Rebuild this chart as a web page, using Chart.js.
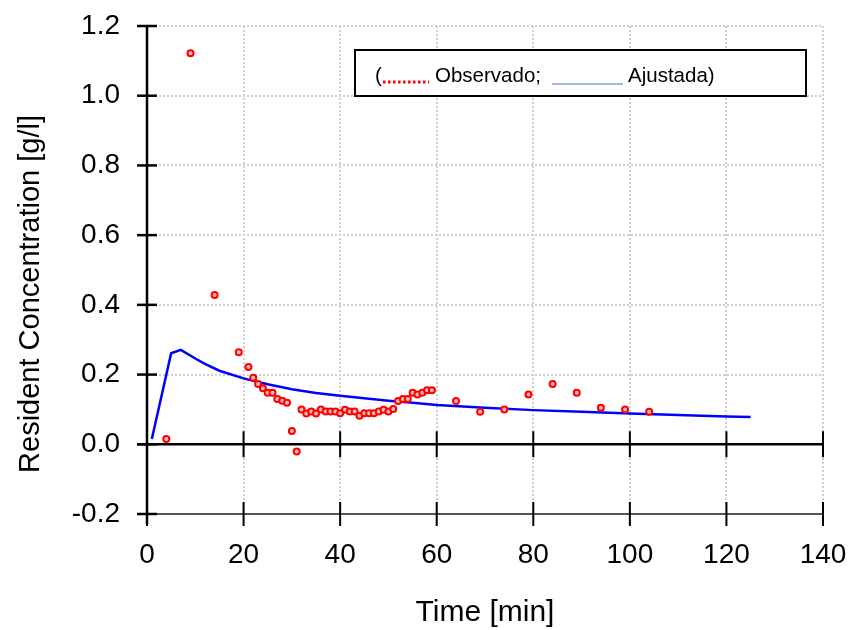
<!DOCTYPE html>
<html>
<head>
<meta charset="utf-8">
<script src="https://cdn.jsdelivr.net/npm/chart.js@4.4.1/dist/chart.umd.min.js"></script>
<style>
  html, body { margin: 0; padding: 0; background: #fff; }
  #wrap { width: 853px; height: 630px; }
</style>
</head>
<body>
<div id="wrap"><canvas id="chart" width="853" height="630"></canvas></div>
<script>
// observed concentration (red dots)
var obsTime = [4, 9, 14, 19, 21, 22, 23, 24, 25, 26, 27, 28, 29, 30, 31, 32, 33, 34, 35, 36,
               37, 38, 39, 40, 41, 42, 43, 44, 45, 46, 47, 48, 49, 50, 51, 52, 53, 54, 55, 56,
               57, 58, 59, 64, 69, 74, 79, 84, 89, 94, 99, 104];
var obsConc = [0.015, 1.122, 0.428, 0.264, 0.222, 0.191, 0.173, 0.161, 0.148, 0.148, 0.130, 0.125, 0.119, 0.038, -0.021, 0.100, 0.088, 0.094, 0.088, 0.100,
               0.094, 0.094, 0.094, 0.089, 0.099, 0.094, 0.094, 0.082, 0.089, 0.089, 0.089, 0.094, 0.099, 0.094, 0.101, 0.124, 0.130, 0.130, 0.148, 0.143,
               0.148, 0.155, 0.155, 0.124, 0.093, 0.100, 0.143, 0.173, 0.148, 0.105, 0.100, 0.093];

// fitted curve (blue line)
var fitTime = [1, 5, 7, 10, 12, 15, 20, 25, 30, 35, 40, 45, 50, 55, 60, 70, 80, 90, 100, 110, 120, 125];
var fitConc = [0.015, 0.261, 0.271, 0.246, 0.231, 0.211, 0.189, 0.172, 0.158, 0.147, 0.139, 0.132, 0.125, 0.119, 0.113, 0.105, 0.098, 0.093, 0.088, 0.084, 0.080, 0.078];

var xTicks = [0, 20, 40, 60, 80, 100, 120, 140];
var yTicks = [-0.2, 0.0, 0.2, 0.4, 0.6, 0.8, 1.0, 1.2];

var FONT = "'Liberation Sans', Arial, sans-serif";

function toPoints(xs, ys) {
    return xs.map(function(x, i) { return { x: x, y: ys[i] }; });
}

// axis lines with crossing tick marks, axis titles and the boxed legend
var decorPlugin = {
    id: 'decor',
    beforeDatasetsDraw: function(chart) {
        var ctx = chart.ctx;
        var xs = chart.scales.x, ys = chart.scales.y;
        var x0 = xs.getPixelForValue(0), x1 = xs.getPixelForValue(140);
        var yTop = ys.getPixelForValue(1.2), yZero = ys.getPixelForValue(0), yBot = ys.getPixelForValue(-0.2);
        ctx.save();
        ctx.lineCap = 'butt';

        // bottom axis at -0.2
        ctx.strokeStyle = '#555';
        ctx.lineWidth = 2;
        ctx.beginPath(); ctx.moveTo(x0 - 10, yBot); ctx.lineTo(x1, yBot); ctx.stroke();
        // zero line
        ctx.strokeStyle = '#000';
        ctx.lineWidth = 2.5;
        ctx.beginPath(); ctx.moveTo(x0 - 10, yZero); ctx.lineTo(x1, yZero); ctx.stroke();
        // left axis
        ctx.beginPath(); ctx.moveTo(x0, yTop); ctx.lineTo(x0, yBot + 10); ctx.stroke();

        // x ticks crossing both horizontal lines
        ctx.lineWidth = 2;
        xTicks.forEach(function(v) {
            var px = xs.getPixelForValue(v);
            ctx.beginPath(); ctx.moveTo(px, yZero - 13); ctx.lineTo(px, yZero + 13); ctx.stroke();
            ctx.beginPath(); ctx.moveTo(px, yBot - 12); ctx.lineTo(px, yBot + 12); ctx.stroke();
        });
        // y ticks crossing the left axis
        ctx.lineWidth = 2.5;
        yTicks.forEach(function(v) {
            var py = ys.getPixelForValue(v);
            ctx.beginPath(); ctx.moveTo(x0 - 10, py); ctx.lineTo(x0 + 10, py); ctx.stroke();
        });

        // axis titles
        ctx.fillStyle = '#000';
        ctx.textAlign = 'center';
        ctx.textBaseline = 'middle';
        ctx.font = '30px ' + FONT;
        ctx.fillText('Time [min]', (x0 + x1) / 2, 613);
        ctx.font = '29px ' + FONT;
        ctx.save();
        ctx.translate(31, 294);
        ctx.rotate(-Math.PI / 2);
        ctx.fillText('Resident Concentration [g/l]', 0, 0);
        ctx.restore();

        // legend box
        ctx.fillStyle = '#fff';
        ctx.fillRect(355, 50, 451, 46);
        ctx.strokeStyle = '#000';
        ctx.lineWidth = 2;
        ctx.strokeRect(355, 50, 451, 46);

        ctx.fillStyle = '#000';
        ctx.font = '20.5px ' + FONT;
        ctx.textAlign = 'left';
        ctx.textBaseline = 'middle';
        ctx.fillText('(', 375, 76);
        ctx.strokeStyle = '#ff0000';
        ctx.lineWidth = 3;
        ctx.setLineDash([2.5, 2.5]);
        ctx.beginPath(); ctx.moveTo(383, 82); ctx.lineTo(429, 82); ctx.stroke();
        ctx.setLineDash([]);
        ctx.fillText('Observado;', 435, 76);
        ctx.strokeStyle = '#7ea0d8';
        ctx.lineWidth = 1.5;
        ctx.beginPath(); ctx.moveTo(552, 84); ctx.lineTo(623, 84); ctx.stroke();
        ctx.fillText('Ajustada)', 628, 76);
        ctx.restore();
    }
};

new Chart(document.getElementById('chart'), {
    type: 'scatter',
    data: {
        datasets: [
            {
                label: 'Ajustada',
                type: 'line',
                data: toPoints(fitTime, fitConc),
                borderColor: '#0000ff',
                borderWidth: 2.5,
                pointRadius: 0,
                fill: false,
                tension: 0,
                order: 2
            },
            {
                label: 'Observado',
                data: toPoints(obsTime, obsConc),
                pointRadius: 3,
                pointBorderWidth: 2,
                borderColor: '#ff0000',
                backgroundColor: '#ffc0c0',
                order: 1
            }
        ]
    },
    options: {
        responsive: false,
        animation: false,
        layout: { padding: { top: 26, right: 30, left: 0, bottom: 0 } },
        plugins: {
            legend: { display: false },
            tooltip: { enabled: false }
        },
        scales: {
            x: {
                type: 'linear',
                min: 0,
                max: 140,
                afterFit: function(s) { s.height = 116; s.paddingLeft = 0; s.paddingRight = 0; },
                afterBuildTicks: function(s) { s.ticks = xTicks.map(function(v) { return { value: v }; }); },
                grid: { color: '#cfcfcf', lineWidth: 2, drawTicks: false },
                border: { display: false, dash: [2, 2] },
                ticks: {
                    color: '#000',
                    padding: 24,
                    font: { family: FONT, size: 28 },
                    maxRotation: 0
                }
            },
            y: {
                type: 'linear',
                min: -0.2,
                max: 1.2,
                afterFit: function(s) { s.width = 147; s.paddingTop = 0; s.paddingBottom = 0; },
                afterBuildTicks: function(s) { s.ticks = yTicks.map(function(v) { return { value: v }; }); },
                grid: { color: '#cfcfcf', lineWidth: 2, drawTicks: false },
                border: { display: false, dash: [2, 2] },
                ticks: {
                    color: '#000',
                    padding: 27,
                    font: { family: FONT, size: 28 },
                    callback: function(v) { return v.toFixed(1); }
                }
            }
        }
    },
    plugins: [decorPlugin]
});
</script>
</body>
</html>
